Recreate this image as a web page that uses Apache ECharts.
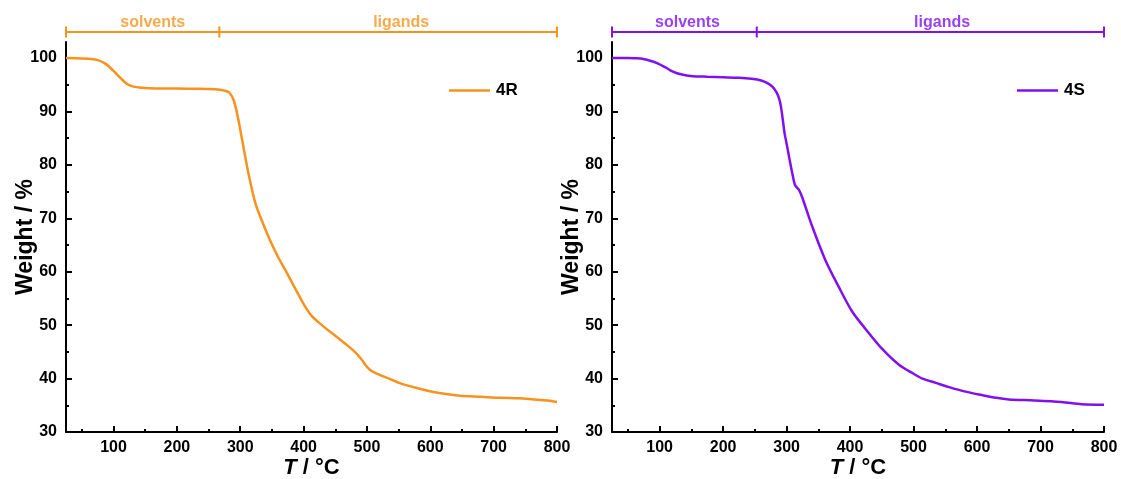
<!DOCTYPE html>
<html>
<head>
<meta charset="utf-8">
<script src="https://cdn.jsdelivr.net/npm/echarts@6/dist/echarts.min.js"></script>
<style>
  html, body { margin: 0; padding: 0; background: #fff; }
  #chart { width: 1121px; height: 479px; }
</style>
</head>
<body>
<div id="chart"></div>
<script>
// TGA curves
var tempR = [25, 50, 65, 75, 85, 92, 100, 108, 115, 122, 130, 140, 150, 175, 200, 225, 250, 265, 275, 283, 290, 297, 303, 313, 324, 335, 347, 360, 374, 387, 397, 405, 413, 422, 435, 447, 465, 480, 490, 498, 505, 512, 520, 535, 553, 580, 605, 625, 647, 680, 710, 740, 763, 785, 800]
var weightR = [100, 99.9, 99.8, 99.6, 99.1, 98.5, 97.6, 96.6, 95.8, 95.1, 94.7, 94.5, 94.4, 94.3, 94.3, 94.25, 94.2, 94.1, 93.9, 93.5, 92, 88.5, 84.7, 78.4, 72.8, 69.3, 65.9, 62.7, 59.7, 56.8, 54.6, 53, 51.7, 50.7, 49.4, 48.3, 46.6, 45.1, 43.8, 42.5, 41.6, 41.1, 40.7, 40, 39.1, 38.2, 37.5, 37.1, 36.8, 36.6, 36.4, 36.3, 36.1, 35.9, 35.6]

var tempS = [25, 50, 70, 85, 95, 110, 120, 135, 152, 175, 200, 225, 245, 260, 270, 278, 284, 288, 291, 294, 297, 301, 305, 309, 313, 316, 320, 325, 340, 361, 382, 403, 425, 451, 477, 500, 514, 535, 556, 580, 608, 630, 650, 690, 733, 765, 800]
var weightS = [100, 100, 99.9, 99.5, 99.1, 98.2, 97.5, 96.9, 96.6, 96.5, 96.4, 96.3, 96.1, 95.8, 95.3, 94.6, 93.6, 92.5, 91, 88.5, 85.8, 83.4, 80.8, 78.4, 76.3, 75.8, 75.2, 73.8, 68.6, 62.2, 57.2, 52.6, 49.2, 45.5, 42.6, 40.9, 40, 39.2, 38.4, 37.6, 36.9, 36.4, 36.1, 35.9, 35.6, 35.2, 35.1]

// ticks
var xTicks = [100, 200, 300, 400, 500, 600, 700, 800]
var xMinorTicks = [50, 150, 250, 350, 450, 550, 650, 750]
var yTicks = [30, 40, 50, 60, 70, 80, 90, 100]
var yMinorTicks = [35, 45, 55, 65, 75, 85, 95]

// bracket annotations on top
var bracketR = [25, 267, 800]
var bracketS = [25, 253, 800]
var bracketNames = ['solvents', 'ligands']
var bracketLabelR = [162, 554]
var bracketLabelS = [144, 545]

var orange = '#F7921E'
var purple = '#8010F0'
var font = 'Liberation Sans, Arial, sans-serif'

function pairs (xs, ys) {
  return xs.map(function (x, i) { return [x, ys[i]] })
}

function mainX (grid) {
  return {
    type: 'value', gridIndex: grid, min: 25, max: 800,
    name: '{i|T} / °C', nameLocation: 'middle', nameGap: 25, nameMoveOverlap: false,
    nameTextStyle: {
      fontFamily: font, fontSize: 22, fontWeight: 'bold', color: '#000',
      rich: { i: { fontFamily: font, fontSize: 22, fontWeight: 'bold', fontStyle: 'italic', color: '#000' } }
    },
    axisLine: { show: true, onZero: false, lineStyle: { color: '#000', width: 2 } },
    axisTick: { show: true, inside: true, length: 6, lineStyle: { width: 2, color: '#000' }, customValues: xTicks },
    axisLabel: { customValues: xTicks, margin: 8, fontFamily: font, fontSize: 16, fontWeight: 'bold', color: '#000' },
    splitLine: { show: false }
  }
}

function minorX (grid) {
  return {
    type: 'value', gridIndex: grid, min: 25, max: 800, position: 'bottom',
    axisLine: { show: false },
    axisTick: { show: true, inside: true, length: 3, lineStyle: { width: 2, color: '#000' }, customValues: xMinorTicks },
    axisLabel: { show: false },
    splitLine: { show: false }
  }
}

function mainY (grid) {
  return {
    type: 'value', gridIndex: grid, min: 30, max: 103,
    name: 'Weight / %', nameLocation: 'middle', nameGap: 29, nameMoveOverlap: false,
    nameTextStyle: { fontFamily: font, fontSize: 23, fontWeight: 'bold', color: '#000' },
    axisLine: { show: true, onZero: false, lineStyle: { color: '#000', width: 2 } },
    axisTick: { show: true, inside: true, length: 6, lineStyle: { width: 2, color: '#000' }, customValues: yTicks },
    axisLabel: { customValues: yTicks, margin: 9, fontFamily: font, fontSize: 16, fontWeight: 'bold', color: '#000' },
    splitLine: { show: false }
  }
}

function minorY (grid) {
  return {
    type: 'value', gridIndex: grid, min: 30, max: 103, position: 'left',
    axisLine: { show: false },
    axisTick: { show: true, inside: true, length: 3, lineStyle: { width: 2, color: '#000' }, customValues: yMinorTicks },
    axisLabel: { show: false },
    splitLine: { show: false }
  }
}

function hiddenX (grid) {
  return { type: 'value', gridIndex: grid, min: 25, max: 800, show: false }
}
function hiddenY (grid) {
  return { type: 'value', gridIndex: grid, min: 0, max: 1, show: false }
}

function bracketSeries (xi, yi, xs, color) {
  return {
    type: 'line', xAxisIndex: xi, yAxisIndex: yi, silent: true,
    data: xs.map(function (x) { return [x, 0.5] }),
    symbol: 'rect', symbolSize: [2, 11], showAllSymbol: true,
    itemStyle: { color: color },
    lineStyle: { color: color, width: 2 },
    animation: false
  }
}

function bracketText (xi, yi, xs, color) {
  return {
    type: 'scatter', xAxisIndex: xi, yAxisIndex: yi, silent: true,
    symbolSize: 0,
    data: xs.map(function (x, i) { return { value: [x, 0.5], name: bracketNames[i] } }),
    label: {
      show: true, position: 'top', distance: 1, formatter: '{b}',
      fontFamily: font, fontSize: 16, fontWeight: 'bold', color: color
    },
    animation: false
  }
}

function legend (left, name) {
  return {
    left: left, top: 82, padding: 0, data: [name], icon: 'rect',
    itemWidth: 41, itemHeight: 2.5, itemGap: 0,
    textStyle: { fontFamily: font, fontSize: 17, fontWeight: 'bold', color: '#000', padding: [0, 0, 0, 1] },
    selectedMode: false
  }
}

function grid (left, right, top, bottom, height) {
  var g = { left: left, right: right, top: top, outerBoundsMode: 'none', containLabel: false }
  if (height) g.height = height
  else g.bottom = bottom
  return g
}

var option = {
  backgroundColor: '#fff',
  animation: false,
  grid: [
    grid(66, 564, 42, 47),
    grid(612, 17, 42, 47),
    grid(66, 564, 22, null, 20),
    grid(612, 17, 22, null, 20)
  ],
  legend: [legend(449, '4R'), legend(1017, '4S')],
  xAxis: [mainX(0), minorX(0), mainX(1), minorX(1), hiddenX(2), hiddenX(3)],
  yAxis: [mainY(0), minorY(0), mainY(1), minorY(1), hiddenY(2), hiddenY(3)],
  series: [
    {
      name: '4R', type: 'line', xAxisIndex: 0, yAxisIndex: 0,
      data: pairs(tempR, weightR), smooth: 0.3, showSymbol: false,
      itemStyle: { color: orange }, lineStyle: { color: orange, width: 2.5 }
    },
    {
      name: '4S', type: 'line', xAxisIndex: 2, yAxisIndex: 2,
      data: pairs(tempS, weightS), smooth: 0.3, showSymbol: false,
      itemStyle: { color: purple }, lineStyle: { color: purple, width: 2.5 }
    },
    bracketSeries(4, 4, bracketR, orange),
    bracketSeries(5, 5, bracketS, purple),
    bracketText(4, 4, bracketLabelR, orange),
    bracketText(5, 5, bracketLabelS, purple)
  ]
}

var myChart = echarts.init(document.getElementById('chart'), null, { renderer: 'canvas' })
myChart.setOption(option)
</script>
</body>
</html>
